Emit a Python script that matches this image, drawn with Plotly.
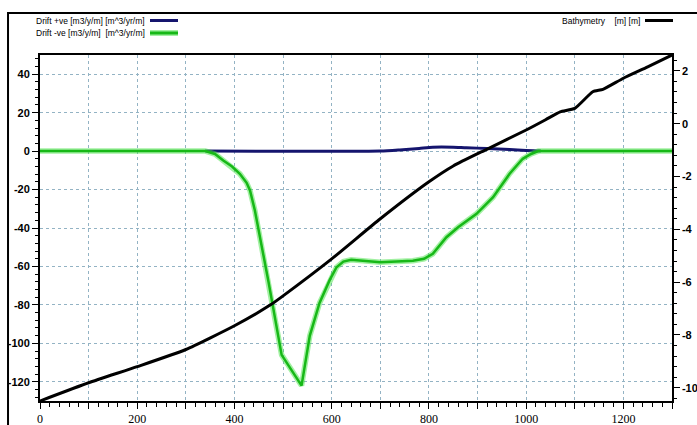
import plotly.graph_objects as go

# Cross-shore chainage [m]
drift_pos_x = [340, 700, 740, 780, 808, 850, 877, 920, 966, 1000, 1030]
drift_pos_y = [0, 0, 0.6, 1.4, 2.0, 2.0, 1.7, 1.4, 0.8, 0.3, 0]

drift_neg_x = [0, 340, 360, 377, 395, 411, 425, 432, 442, 470, 497, 538, 555, 575,
               596, 610, 624, 640, 700, 767, 790, 808, 836, 860, 898, 932, 966,
               993, 1010, 1025, 1300]
drift_neg_y = [0, 0, -1.5, -4.9, -8, -11.8, -16.5, -20.5, -30.9, -68, -106, -122, -96, -79,
               -67, -60.4, -57.5, -56.5, -57.8, -57, -56, -53.4, -44.8, -39.6, -32.6, -24, -11.8,
               -4, -1.5, 0, 0]

bathy_x = [0, 100, 200, 300, 400, 475, 500, 600, 700, 800, 850, 920, 1000, 1040,
           1070, 1100, 1137, 1158, 1200, 1250, 1300]
bathy_y = [-10.5, -9.81, -9.2, -8.55, -7.65, -6.85, -6.52, -5.12, -3.6, -2.2, -1.6, -0.96,
           -0.24, 0.15, 0.45, 0.58, 1.21, 1.30, 1.72, 2.15, 2.6]

x_ticks = list(range(0, 1301, 100))
x_labels = [str(v) if v % 200 == 0 else "" for v in x_ticks]
y_ticks = list(range(-120, 41, 20))
y_labels = [str(v) for v in y_ticks]
y2_ticks = list(range(-10, 3, 2))
y2_labels = [str(v) for v in y2_ticks]

NAVY = "#15156e"
GREEN = "#17b817"
HALO = "rgba(70,225,70,0.5)"
GRID = "#93b3c4"
SANS = "Liberation Sans, Arial, sans-serif"
SERIF = "Liberation Serif, Times New Roman, serif"

fig = go.Figure()

fig.add_trace(go.Scatter(x=drift_pos_x, y=drift_pos_y, mode="lines",
                         line=dict(color=NAVY, width=3, shape="spline", smoothing=0.6),
                         name="Drift +ve"))
fig.add_trace(go.Scatter(x=bathy_x, y=bathy_y, mode="lines", yaxis="y2",
                         line=dict(color="black", width=3, shape="spline", smoothing=0.5),
                         name="Bathymetry"))
fig.add_trace(go.Scatter(x=drift_neg_x, y=drift_neg_y, mode="lines",
                         line=dict(color=HALO, width=5.5), hoverinfo="skip",
                         showlegend=False))
fig.add_trace(go.Scatter(x=drift_neg_x, y=drift_neg_y, mode="lines",
                         line=dict(color=GREEN, width=2.5), name="Drift -ve"))

fig.update_layout(
    width=697, height=425,
    margin=dict(l=40, r=25, t=55, b=24, autoexpand=False),
    paper_bgcolor="white", plot_bgcolor="white",
    showlegend=False,
    xaxis=dict(
        range=[0, 1300], tickvals=x_ticks, ticktext=x_labels, automargin=False,
        ticks="outside", ticklen=6, tickcolor="black",
        showgrid=True, gridcolor=GRID, griddash="dot", gridwidth=1,
        showline=True, linecolor="black", linewidth=2, mirror=True,
        zeroline=False,
        tickfont=dict(family=SERIF, size=12, color="black"),
        minor=dict(dtick=20, tick0=0, ticks="outside", ticklen=4, tickcolor="black", showgrid=False),
    ),
    yaxis=dict(
        range=[-130, 50], tickvals=y_ticks, ticktext=y_labels, automargin=False,
        ticks="outside", ticklen=6, tickcolor="black",
        showgrid=True, gridcolor=GRID, griddash="dot", gridwidth=1,
        showline=True, linecolor="black", linewidth=2, mirror=False,
        zeroline=False,
        tickfont=dict(family=SANS, size=11, color="black", weight="bold"),
        minor=dict(dtick=4, tick0=0, ticks="outside", ticklen=3, tickcolor="black", showgrid=False),
    ),
    yaxis2=dict(
        range=[-10.5, 2.6], tickvals=y2_ticks, ticktext=y2_labels, automargin=False,
        overlaying="y", side="right",
        ticks="outside", ticklen=6, tickcolor="black",
        showgrid=False, zeroline=False,
        showline=True, linecolor="black", linewidth=1.5,
        tickfont=dict(family=SANS, size=11, color="black", weight="bold"),
        minor=dict(dtick=0.4, tick0=0, ticks="outside", ticklen=3, tickcolor="black"),
    ),
)

# Outer frame of the chart panel
fig.add_shape(type="rect", xref="paper", yref="paper",
              x0=-0.0506, x1=1.2, y0=-0.3, y1=1.1214,
              line=dict(color="black", width=2), layer="above")

# Legend entries: text followed by a line sample
PX_W, PX_H = 632.0, 346.0


def px_x(px):
    return (px - 40) / PX_W


def px_y(py):
    return (425 - 24 - py) / PX_H


legend_rows = [
    ("Drift +ve [m3/y/m] [m^3/yr/m]", 146, 150, 178, 20.5, NAVY, False),
    ("Drift -ve [m3/y/m]  [m^3/yr/m]", 146, 150, 178, 33.0, GREEN, True),
    ("Bathymetry    [m] [m]", 641, 645, 673, 20.5, "black", False),
]
for text, tx, lx0, lx1, ly, col, glow in legend_rows:
    fig.add_annotation(xref="paper", yref="paper", x=px_x(tx), y=px_y(ly),
                       text=text, showarrow=False, xanchor="right", yanchor="middle",
                       borderpad=0, font=dict(family=SANS, size=8.5, color="black"))
    if glow:
        fig.add_shape(type="line", xref="paper", yref="paper",
                      x0=px_x(lx0), x1=px_x(lx1), y0=px_y(ly), y1=px_y(ly),
                      line=dict(color=HALO, width=6))
    fig.add_shape(type="line", xref="paper", yref="paper",
                  x0=px_x(lx0), x1=px_x(lx1), y0=px_y(ly), y1=px_y(ly),
                  line=dict(color=col, width=3))

fig.write_html("out.html")
